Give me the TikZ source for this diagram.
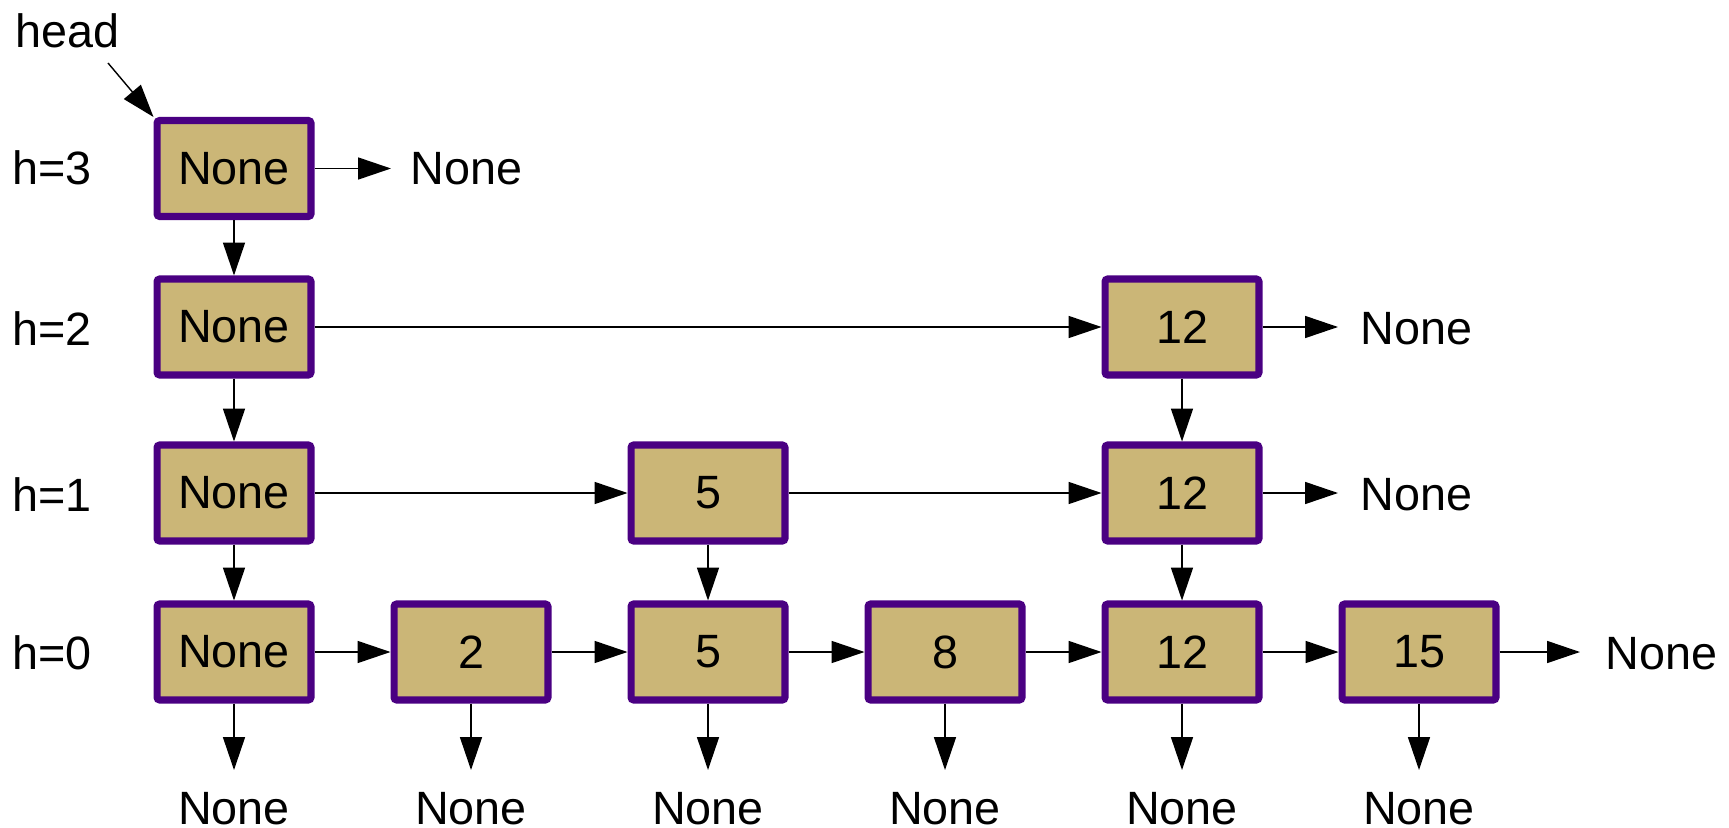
\documentclass[tikz,border=0pt]{standalone}
\usepackage{fontspec}
\setmainfont{Liberation Sans}
\usetikzlibrary{arrows.meta}
\definecolor{boxfill}{RGB}{203,182,119}
\definecolor{boxline}{RGB}{74,0,130}
\begin{document}
\begin{tikzpicture}[x=0.02cm,y=-0.02cm,
  every node/.style={font=\fontsize{26.6}{32}\selectfont},
  cell/.style={draw=boxline,fill=boxfill,line width=4pt,rounded corners=1.5pt,
    minimum width=3.08cm,minimum height=1.92cm,inner sep=0pt},
  lbl/.style={anchor=base west,inner sep=0pt},
  nil/.style={anchor=base,inner sep=0pt},
  link/.style={line width=0.8pt,-{Triangle[length=18.7pt,width=12.5pt]}}]
\useasboundingbox (0,0) rectangle (1729,828);

% level labels
\node[lbl] (head) at (15,48) {head};
\node[lbl] (l3) at (12,185) {h=3};
\node[lbl] (l2) at (12,345) {h=2};
\node[lbl] (l1) at (12,511) {h=1};
\node[lbl] (l0) at (12,669) {h=0};

% towers
\node[cell] (n3) at (234,168.5) {None};
\node[cell] (n2) at (234,327) {None};
\node[cell] (n1) at (234,493) {None};
\node[cell] (n0) at (234,652) {None};
\node[cell] (a0) at (471,652) {2};
\node[cell] (b1) at (708,493) {5};
\node[cell] (b0) at (708,652) {5};
\node[cell] (c0) at (945,652) {8};
\node[cell] (d2) at (1182,327) {12};
\node[cell] (d1) at (1182,493) {12};
\node[cell] (d0) at (1182,652) {12};
\node[cell] (e0) at (1419,652) {15};

% head pointer
\coordinate (hs) at (108,63);
\draw[link] (hs) -- (n3.north west);

% down links
\draw[link] (n3) -- (n2);
\draw[link] (n2) -- (n1);
\draw[link] (n1) -- (n0);
\draw[link] (b1) -- (b0);
\draw[link] (d2) -- (d1);
\draw[link] (d1) -- (d0);

% forward links
\draw[link] (n2) -- (d2);
\draw[link] (n1) -- (b1);
\draw[link] (b1) -- (d1);
\draw[link] (n0) -- (a0);
\draw[link] (a0) -- (b0);
\draw[link] (b0) -- (c0);
\draw[link] (c0) -- (d0);
\draw[link] (d0) -- (e0);

% right-hand terminators
\coordinate (t3) at (391,168.5);
\coordinate (t2) at (1338,327);
\coordinate (t1) at (1338,493);
\coordinate (t0) at (1580,652);
\draw[link] (n3.east) -- (t3);
\draw[link] (d2.east) -- (t2);
\draw[link] (d1.east) -- (t1);
\draw[link] (e0.east) -- (t0);
\node[lbl] (r3) at (410,185) {None};
\node[lbl] (r2) at (1360,344) {None};
\node[lbl] (r1) at (1360,510) {None};
\node[lbl] (r0) at (1605,669) {None};

% bottom terminators
\foreach \n/\x in {n0/234,a0/471,b0/708,c0/945,d0/1182,e0/1419}{
  \coordinate (\n t) at (\x,770);
  \draw[link] (\n.south) -- (\n t);
  \node[nil] (\n z) at (\x,824) {None};
}
\end{tikzpicture}
\end{document}
